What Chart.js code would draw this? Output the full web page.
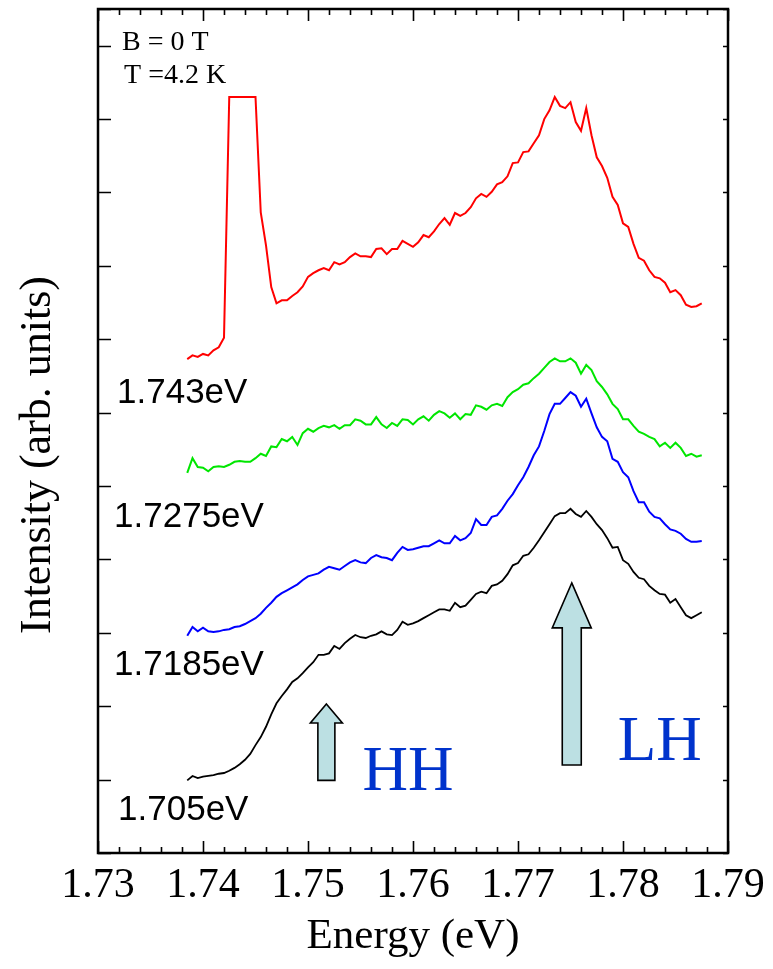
<!DOCTYPE html>
<html>
<head>
<meta charset="utf-8">
<script src="https://cdn.jsdelivr.net/npm/chart.js@4/dist/chart.umd.min.js"></script>
<style>
  html, body { margin: 0; padding: 0; background: #fff; }
  #c { display: block; }
</style>
</head>
<body>
<canvas id="c" width="773" height="969"></canvas>
<script>
// ---- Data ----
const energies = [
  1.7385,1.7390,1.7395,1.7400,1.7405,1.7410,1.7415,1.7420,1.7425,1.7430,
  1.7435,1.7440,1.7445,1.7450,1.7455,1.7460,1.7465,1.7470,1.7475,1.7480,
  1.7485,1.7490,1.7495,1.7500,1.7505,1.7510,1.7515,1.7520,1.7525,1.7530,
  1.7535,1.7540,1.7545,1.7550,1.7555,1.7560,1.7565,1.7570,1.7575,1.7580,
  1.7585,1.7590,1.7595,1.7600,1.7605,1.7610,1.7615,1.7620,1.7625,1.7630,
  1.7635,1.7640,1.7645,1.7650,1.7655,1.7660,1.7665,1.7670,1.7675,1.7680,
  1.7685,1.7690,1.7695,1.7700,1.7705,1.7710,1.7715,1.7720,1.7725,1.7730,
  1.7735,1.7740,1.7745,1.7750,1.7755,1.7760,1.7765,1.7770,1.7775,1.7780,
  1.7785,1.7790,1.7795,1.7800,1.7805,1.7810,1.7815,1.7820,1.7825,1.7830,
  1.7835,1.7840,1.7845,1.7850,1.7855,1.7860,1.7865,1.7870,1.7875
];

const series1705 = [
  0.99,1.05,1.02,1.04,1.05,1.06,1.08,1.09,1.12,1.16,
  1.21,1.27,1.35,1.47,1.58,1.72,1.89,2.04,2.14,2.23,
  2.33,2.38,2.45,2.53,2.60,2.70,2.70,2.72,2.82,2.78,
  2.86,2.92,2.97,2.94,2.93,2.96,2.98,3.02,2.98,2.97,
  3.04,3.15,3.11,3.13,3.16,3.20,3.24,3.28,3.32,3.32,
  3.30,3.41,3.35,3.37,3.45,3.53,3.56,3.54,3.64,3.66,
  3.71,3.80,3.92,3.95,4.05,4.07,4.16,4.26,4.37,4.48,
  4.59,4.63,4.63,4.69,4.62,4.58,4.66,4.58,4.48,4.40,
  4.29,4.16,4.17,3.99,3.94,3.83,3.75,3.73,3.64,3.58,
  3.53,3.52,3.41,3.46,3.35,3.24,3.20,3.24,3.28
];

const series17185 = [
  2.96,3.08,3.02,3.07,3.02,3.01,3.02,3.04,3.05,3.08,
  3.09,3.12,3.16,3.20,3.26,3.34,3.41,3.49,3.54,3.58,
  3.62,3.66,3.72,3.77,3.79,3.81,3.86,3.90,3.88,3.86,
  3.91,3.96,3.99,3.96,3.95,4.02,4.06,4.03,4.02,3.99,
  4.09,4.17,4.13,4.14,4.16,4.18,4.18,4.22,4.26,4.22,
  4.22,4.32,4.26,4.29,4.36,4.55,4.47,4.47,4.58,4.60,
  4.69,4.80,4.89,5.01,5.12,5.26,5.42,5.54,5.75,5.98,
  6.12,6.12,6.20,6.28,6.23,6.08,6.19,5.99,5.80,5.67,
  5.61,5.37,5.33,5.19,5.12,4.93,4.78,4.78,4.65,4.58,
  4.56,4.48,4.41,4.39,4.35,4.28,4.24,4.24,4.25
];

const series17275 = [
  5.18,5.38,5.26,5.25,5.20,5.26,5.27,5.26,5.29,5.33,
  5.34,5.33,5.33,5.38,5.44,5.41,5.54,5.53,5.64,5.61,
  5.67,5.56,5.72,5.78,5.74,5.79,5.82,5.80,5.83,5.78,
  5.83,5.83,5.91,5.89,5.84,5.84,5.94,5.84,5.79,5.86,
  5.82,5.91,5.90,5.84,5.91,5.95,5.89,5.97,6.02,5.99,
  5.93,5.99,5.91,5.98,5.97,6.10,6.08,6.04,6.10,6.12,
  6.09,6.21,6.28,6.32,6.38,6.40,6.47,6.53,6.61,6.69,
  6.74,6.70,6.70,6.74,6.68,6.53,6.65,6.58,6.43,6.35,
  6.25,6.12,6.05,5.91,5.91,5.82,5.74,5.71,5.67,5.64,
  5.54,5.59,5.52,5.59,5.52,5.41,5.44,5.40,5.42
];

const series1743 = [
  6.73,6.78,6.76,6.80,6.78,6.85,6.89,7.02,10.30,10.30,
  10.30,10.30,10.30,10.30,8.73,8.28,7.71,7.49,7.53,7.53,
  7.59,7.64,7.72,7.85,7.90,7.94,7.97,7.94,8.05,8.02,
  8.05,8.12,8.17,8.13,8.13,8.12,8.23,8.24,8.16,8.23,
  8.23,8.34,8.30,8.26,8.32,8.42,8.39,8.47,8.57,8.65,
  8.56,8.72,8.68,8.72,8.80,8.92,8.98,8.94,9.01,9.11,
  9.14,9.22,9.40,9.41,9.55,9.56,9.67,9.78,10.00,10.12,
  10.30,10.18,10.15,10.23,9.96,9.84,10.15,9.78,9.48,9.36,
  9.20,8.94,8.83,8.58,8.53,8.30,8.11,8.07,7.94,7.85,
  7.83,7.77,7.64,7.67,7.60,7.47,7.44,7.45,7.49
];

const seriesNames  = ['1.705eV', '1.7185eV', '1.7275eV', '1.743eV'];
const seriesValues = [series1705, series17185, series17275, series1743];
const seriesColors = ['#000000', '#0000ff', '#00e600', '#ff0000'];

const xTickLabels = ['1.73','1.74','1.75','1.76','1.77','1.78','1.79'];
const yTitle = 'Intensity (arb. units)';
const xTitle = 'Energy (eV)';

// ---- Annotation placement (in data coordinates) ----
const curveLabels = [
  { text: '1.743eV',  x: 1.73181, y: 6.13 },
  { text: '1.7275eV', x: 1.73153, y: 4.44 },
  { text: '1.7185eV', x: 1.73153, y: 2.43 },
  { text: '1.705eV',  x: 1.73191, y: 0.45 }
];
const conditionLabels = [
  { text: 'B = 0 T',  x: 1.73229, y: 10.94 },
  { text: 'T =4.2 K', x: 1.73248, y: 10.49 }
];
const bandLabels = [
  { text: 'HH', x: 1.75518, y: 0.86 },
  { text: 'LH', x: 1.77951, y: 1.27 }
];
const arrows = [
  { x: 1.75175, tip: 2.03, base: 0.99, headLen: 19, headHalf: 16, shaftHalf: 8.5 },
  { x: 1.77512, tip: 3.68, base: 1.20, headLen: 45, headHalf: 19.5, shaftHalf: 9.5 }
];

const SERIF = "'Liberation Serif', 'Times New Roman', Times, serif";
const SANS  = "'Liberation Sans', Arial, Helvetica, sans-serif";

const decorPlugin = {
  id: 'decor',
  afterDatasetsDraw(chart) {
    const { ctx, chartArea: a } = chart;
    const xs = chart.scales.x, ys = chart.scales.y;
    ctx.save();

    // arrows
    arrows.forEach(ar => {
      const cx = xs.getPixelForValue(ar.x);
      const tip = ys.getPixelForValue(ar.tip);
      const bot = ys.getPixelForValue(ar.base);
      const hb = tip + ar.headLen;
      ctx.beginPath();
      ctx.moveTo(cx, tip);
      ctx.lineTo(cx + ar.headHalf, hb);
      ctx.lineTo(cx + ar.shaftHalf, hb);
      ctx.lineTo(cx + ar.shaftHalf, bot);
      ctx.lineTo(cx - ar.shaftHalf, bot);
      ctx.lineTo(cx - ar.shaftHalf, hb);
      ctx.lineTo(cx - ar.headHalf, hb);
      ctx.closePath();
      ctx.fillStyle = '#bce0e3';
      ctx.fill();
      ctx.lineWidth = 1.6;
      ctx.strokeStyle = '#000';
      ctx.lineJoin = 'miter';
      ctx.stroke();
    });

    // texts
    ctx.textAlign = 'left';
    ctx.textBaseline = 'alphabetic';
    ctx.fillStyle = '#000';
    ctx.font = '35px ' + SANS;
    curveLabels.forEach(l => ctx.fillText(l.text, xs.getPixelForValue(l.x), ys.getPixelForValue(l.y)));
    ctx.font = '28px ' + SERIF;
    conditionLabels.forEach(l => ctx.fillText(l.text, xs.getPixelForValue(l.x), ys.getPixelForValue(l.y)));
    ctx.fillStyle = '#0033cc';
    ctx.font = '63px ' + SERIF;
    bandLabels.forEach(l => ctx.fillText(l.text, xs.getPixelForValue(l.x), ys.getPixelForValue(l.y)));

    // y-axis title (rotated), placed slightly below the axis centre as in the reference
    ctx.save();
    ctx.translate(a.left - 60, (a.top + a.bottom) / 2 + 24);
    ctx.rotate(-Math.PI / 2);
    ctx.textAlign = 'center';
    ctx.textBaseline = 'middle';
    ctx.fillStyle = '#000';
    ctx.font = '44px ' + SERIF;
    ctx.fillText(yTitle, 0, 0);
    ctx.restore();

    // frame
    ctx.strokeStyle = '#000';
    ctx.lineWidth = 2.5;
    ctx.strokeRect(a.left, a.top, a.right - a.left, a.bottom - a.top);

    // x ticks (inward, bottom and top)
    ctx.lineWidth = 1.6;
    ctx.beginPath();
    xs.ticks.forEach(t => {
      const px = Math.round(xs.getPixelForValue(t.value)) + 0.5;
      const major = Math.abs(t.value * 100 - Math.round(t.value * 100)) < 1e-6;
      const len = major ? 12 : 6;
      ctx.moveTo(px, a.bottom); ctx.lineTo(px, a.bottom - len);
      ctx.moveTo(px, a.top);    ctx.lineTo(px, a.top + len);
    });
    // y ticks (inward, left long, right short)
    ys.ticks.forEach(t => {
      const py = Math.round(ys.getPixelForValue(t.value)) + 0.5;
      ctx.moveTo(a.left, py);  ctx.lineTo(a.left + 13, py);
      ctx.moveTo(a.right, py); ctx.lineTo(a.right - 5, py);
    });
    ctx.stroke();
    ctx.restore();
  }
};

const datasets = seriesNames.map((name, i) => ({
  label: name,
  data: energies.map((e, k) => ({ x: e, y: seriesValues[i][k] })),
  borderColor: seriesColors[i],
  backgroundColor: seriesColors[i],
  borderWidth: i === 0 ? 1.8 : 2,
  pointRadius: 0,
  tension: 0,
  fill: false
}));

new Chart(document.getElementById('c'), {
  type: 'line',
  data: { datasets },
  plugins: [decorPlugin],
  options: {
    responsive: false,
    animation: false,
    devicePixelRatio: 1,
    layout: { padding: { top: 9, right: 45, left: 0, bottom: 0 } },
    plugins: { legend: { display: false }, tooltip: { enabled: false } },
    scales: {
      x: {
        type: 'linear',
        min: 1.73, max: 1.79,
        afterFit: s => { s.height = 116; },
        grid: { display: false, drawTicks: false },
        border: { display: false },
        ticks: {
          stepSize: 0.002,
          autoSkip: false,
          maxRotation: 0,
          padding: 8,
          color: '#000',
          font: { family: SERIF, size: 42, lineHeight: 1.2 },
          callback: (v) => {
            const r = Math.round(v * 100);
            if (Math.abs(v * 100 - r) < 1e-6) {
              const lbl = (r / 100).toFixed(2);
              return xTickLabels.includes(lbl) ? lbl : '';
            }
            return '';
          }
        },
        title: {
          display: true, text: xTitle, color: '#000',
          font: { family: SERIF, size: 43, lineHeight: 1.2 },
          padding: { top: 0, bottom: 6 }
        }
      },
      y: {
        type: 'linear',
        min: 0, max: 11.5,
        afterFit: s => { s.width = 98; },
        grid: { display: false, drawTicks: false },
        border: { display: false },
        ticks: { stepSize: 1, display: false },
        title: { display: false, text: yTitle }
      }
    }
  }
});
</script>
</body>
</html>
